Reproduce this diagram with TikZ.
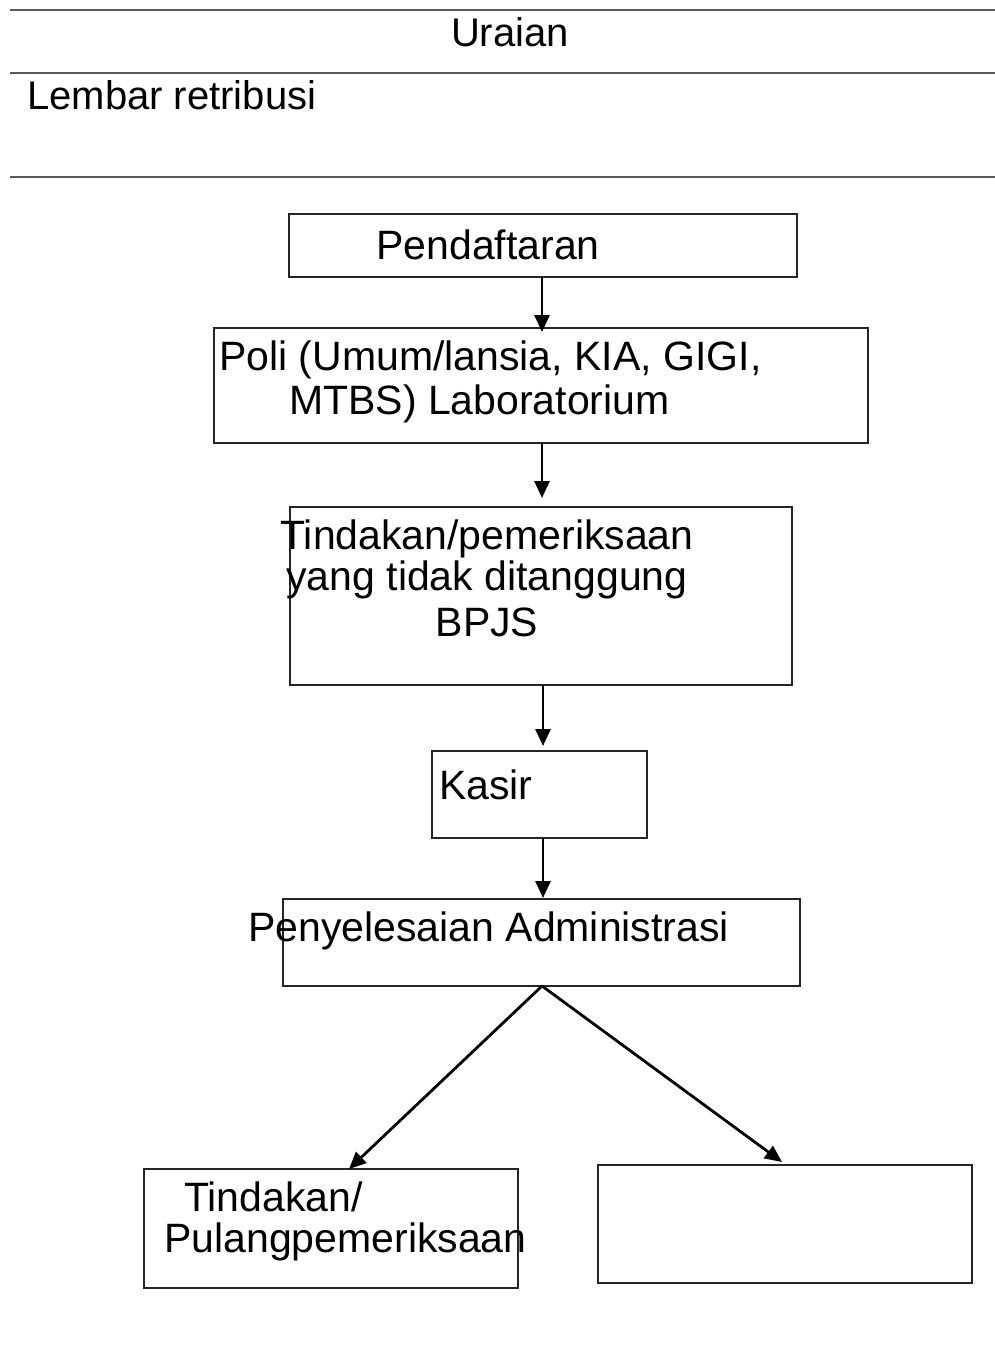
\documentclass[tikz,border=0pt]{standalone}
\usepackage{fontspec}
\setmainfont{Liberation Sans}
\usetikzlibrary{arrows.meta}
\begin{document}
\begin{tikzpicture}[x=1pt,y=-1pt,
  box/.style={draw=black!85,line width=1.6pt},
  rule/.style={draw=black!65,line width=2pt},
  txt/.style={inner sep=0pt,font=\fontsize{41}{48}\selectfont},
  hd/.style={inner sep=0pt,font=\fontsize{40}{46}\selectfont},
  arr/.style={line width=2.8pt,-{Triangle[length=17pt,width=15pt]}}]
\useasboundingbox[fill=white] (0,0) rectangle (995,1351);
% header table
\draw[rule] (10,10) -- (995,10);
\draw[rule] (10,73) -- (995,73);
\draw[rule] (10,177) -- (995,177);
\node[hd] (uraian) at (510,32) {Uraian};
\node[hd,anchor=west] (lembar) at (27,95) {Lembar retribusi};
% boxes
\node[box,minimum width=508pt,minimum height=63pt,inner sep=0pt] (b1) at (543,245.5) {};
\node[box,minimum width=654pt,minimum height=115pt,inner sep=0pt] (b2) at (541,385.5) {};
\node[box,minimum width=502pt,minimum height=178pt,inner sep=0pt] (b3) at (541,596) {};
\node[box,minimum width=215pt,minimum height=87pt,inner sep=0pt] (b4) at (539.5,794.5) {};
\node[box,minimum width=517pt,minimum height=87pt,inner sep=0pt] (b5) at (541.5,942.5) {};
\node[box,minimum width=374pt,minimum height=119pt,inner sep=0pt] (b6) at (331,1228.5) {};
\node[box,minimum width=374pt,minimum height=118pt,inner sep=0pt] (b7) at (785,1224) {};
% texts
\node[txt] (t1) at (488,245) {Pendaftaran};
\node[txt,anchor=west] (t2a) at (219,360) {Poli (Umum/lansia, KIA, GIGI,};
\node[txt,anchor=west] (t2b) at (289,404) {MTBS) Laboratorium};
\node[txt] (t3a) at (487,539) {Tindakan/pemeriksaan};
\node[txt] (t3b) at (487,580) {yang tidak ditanggung};
\node[txt] (t3c) at (487,622) {BPJS};
\node[txt,anchor=west] (t4) at (439,785) {Kasir};
\node[txt,anchor=west] (t5) at (248,931) {Penyelesaian Administrasi};
\node[txt,anchor=west] (t6a) at (184,1197) {Tindakan/};
\node[txt,anchor=west] (t6b) at (164,1242) {Pulangpemeriksaan};
% connectors
\coordinate (s5) at (542,986);
\draw[arr] (542,277) -- (542,332);
\draw[arr] (542,443) -- (542,498);
\draw[arr] (543,685) -- (543,746);
\draw[arr] (543,838) -- (543,898);
\draw[arr] (s5) -- (349,1169);
\draw[arr] (s5) -- (782,1162);
\end{tikzpicture}
\end{document}
